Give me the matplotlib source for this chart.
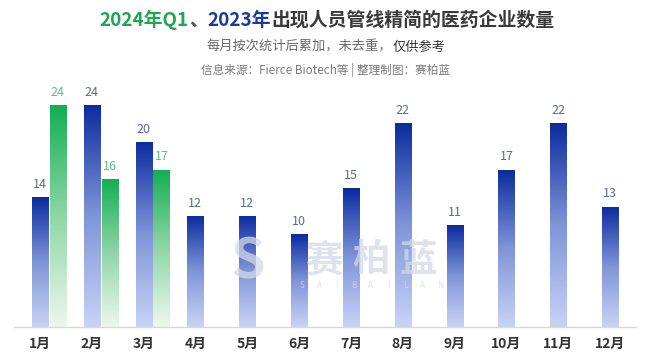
import numpy as np
import matplotlib
matplotlib.use("Agg")
import matplotlib.pyplot as plt
from matplotlib.colors import LinearSegmentedColormap

plt.rcParams['font.family'] = ['Noto Sans CJK SC', 'DejaVu Sans']

months = ['1月', '2月', '3月', '4月', '5月', '6月', '7月', '8月', '9月', '10月', '11月', '12月']
values_2023 = [14, 24, 20, 12, 12, 10, 15, 22, 11, 17, 22, 13]
values_2024 = [24, 16, 17]

title_parts = [('2024年Q1', '#1ea653'), ('、', '#555555'), ('2023年', '#1a3a9e'),
               ('出现人员管线精简的医药企业数量', '#3a3a3a')]
subtitle_parts = [('每月按次统计后累加，未去重，', '#6a6a6a', 'normal'), ('仅供参考', '#333333', 'medium')]
source = '信息来源：Fierce Biotech等 | 整理制图：赛柏蓝'

W, H = 650, 357
fig = plt.figure(figsize=(W / 100, H / 100), dpi=100)
fig.patch.set_facecolor('white')

ax_left, ax_right = 14, 636
base_y = 327
ymax = 26
ppu = 9.25
ax_h = ymax * ppu
ax = fig.add_axes([ax_left / W, (H - base_y) / H, (ax_right - ax_left) / W, ax_h / H])
ax.set_xlim(-0.5, 11.5)
ax.set_ylim(0, ymax)
for s in ['top', 'right', 'left']:
    ax.spines[s].set_visible(False)
ax.spines['bottom'].set_color('#d8d8d8')
ax.spines['bottom'].set_linewidth(1.0)
ax.set_yticks([])
ax.set_xticks(range(len(months)))
ax.set_xticklabels(months, fontsize=10, fontweight='bold', color='#333333')
ax.tick_params(axis='x', length=0, pad=7)

blue_cmap = LinearSegmentedColormap.from_list('b', ['#c8d3f6', '#7f95d8', '#0b2b9f'])
green_cmap = LinearSegmentedColormap.from_list('g', ['#edf8ee', '#8fd6a6', '#12ae52'])
grad = np.linspace(0, 1, 256).reshape(-1, 1)

bw = 0.31
off = 0.345


def grad_bar(x, h, cmap):
    bars = ax.bar([x], [h], width=bw, color='none', edgecolor='none', zorder=2)
    b = bars[0]
    im = ax.imshow(grad, cmap=cmap, aspect='auto', origin='lower',
                   extent=[x - bw / 2, x + bw / 2, 0, h], zorder=2)
    im.set_clip_path(b)


for i, v in enumerate(values_2023):
    grad_bar(i, v, blue_cmap)
    ax.text(i, v + 0.7, str(v), ha='center', va='bottom', fontsize=9, color='#5b6a8e')

for i, v in enumerate(values_2024):
    x = i + off
    grad_bar(x, v, green_cmap)
    ax.text(x, v + 0.7, str(v), ha='center', va='bottom', fontsize=9, color='#5cbc85')

ax.set_xlim(-0.5, 11.5)
ax.set_ylim(0, ymax)


# watermark (figure pixel coords -> figure fraction)
def fpx(x, y):
    return x / W, 1 - y / H


wm_col = '#d3d9e6'
fig.text(*fpx(248, 262), 'S', fontsize=40, fontweight='bold', color=wm_col, alpha=0.75,
         ha='center', va='center', zorder=5)
for cx, ch in zip([324, 371, 418], '赛柏蓝'):
    fig.text(*fpx(cx, 260), ch, fontsize=27, fontweight='bold', color=wm_col, alpha=0.75,
             ha='center', va='center', zorder=5)
letters = 'SAIBAILAN'
for k, ch in enumerate(letters):
    cx = 302 + k * (138 / 8)
    fig.text(*fpx(cx, 286), ch, fontsize=6, color=wm_col, alpha=0.8,
             ha='center', va='center', zorder=5)

renderer = fig.canvas.get_renderer()


def multi_text(parts, y, size, center):
    ts = []
    for p in parts:
        t, c = p[0], p[1]
        wgt = p[2] if len(p) > 2 else 'bold'
        tx = fig.text(0, 1 - y / H, t, fontsize=size, fontweight=wgt, color=c, va='center', ha='left')
        ts.append(tx)
    ws = [tx.get_window_extent(renderer).width for tx in ts]
    x0 = center - sum(ws) / 2
    for tx, w in zip(ts, ws):
        tx.set_x(x0 / W)
        x0 += w


multi_text(title_parts, 20, 13.6, W / 2 + 2)
multi_text(subtitle_parts, 47, 9.5, 326)
fig.text(326 / W, 1 - 70 / H, source, fontsize=8.4, color='#7a7a7a', ha='center', va='center')

fig.savefig('out.png', dpi=100)
